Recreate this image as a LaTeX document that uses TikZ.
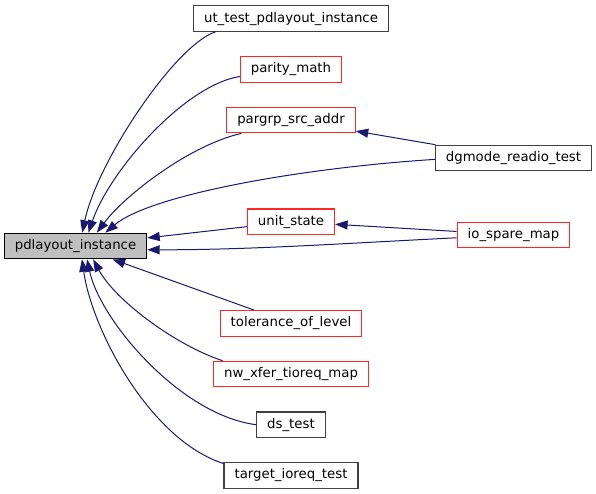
\documentclass[tikz,border=0pt]{standalone}
\usepackage{fontspec}
\setmainfont{DejaVu Sans}
\usepackage{tikz}
\usetikzlibrary{positioning, arrows.meta}
\definecolor{CallBlue}{HTML}{191970}
\definecolor{BoxGray}{HTML}{404040}
\definecolor{CurFill}{HTML}{BFBFBF}

\begin{document}
\begin{tikzpicture}[
  x=1pt, y=-1pt,
  font=\fontsize{13.3pt}{16pt}\selectfont,
  fn/.style={draw=BoxGray, line width=1.1pt, fill=white, inner xsep=10.5pt, minimum height=25.5pt, text height=9.8pt, text depth=2.8pt},
  fntrunc/.style={fn, draw=red!85!white},
  fncur/.style={fn, draw=black, fill=CurFill},
  arr/.style={-{Triangle[length=12.5pt, width=9pt]}, draw=CallBlue, line width=1pt},
  every node/.style={anchor=center}
]
\useasboundingbox (0,0) rectangle (596,493);
\node[fncur] (pdl) at (75.5,246) {pdlayout\_instance};
\node[fn] (ut) at (291,18.5) {ut\_test\_pdlayout\_instance};
\node[fntrunc, below=24.2pt of ut] (parity) {parity\_math};
\node[fntrunc, below=24.2pt of parity] (pargrp) {pargrp\_src\_addr};
\node[fntrunc, below=75pt of pargrp] (unit) {unit\_state};
\node[fntrunc, below=75pt of unit] (tol) {tolerance\_of\_level};
\node[fntrunc, below=24.1pt of tol] (nwx) {nw\_xfer\_tioreq\_map};
\node[fn, below=24.1pt of nwx] (ds) {ds\_test};
\node[fn, below=24.1pt of ds] (target) {target\_ioreq\_test};
\node[fn] (dgmode) at (513.5,158) {dgmode\_readio\_test};
\node[fntrunc, below=50.2pt of dgmode] (iospare) {io\_spare\_map};
% callers of pdlayout_instance
\draw[arr] (ut.190) .. controls (175,45) and (97,162) .. (pdl.63);
\draw[arr] (parity.188) .. controls (185,85) and (110,170) .. (pdl.46);
\draw[arr] (pargrp.195) .. controls (190,145) and (125,195) .. (pdl.32);
\draw[arr] (dgmode.181.5) .. controls (300,168) and (150,195) .. (pdl.24.5);
\draw[arr] (unit) -- (pdl);
\draw[arr] (iospare.183.6) .. controls (350,243) and (250,250) .. (pdl.357.6);
\draw[arr] (tol) -- (pdl);
\draw[arr] (nwx.169) .. controls (175,345) and (115,300) .. (pdl.323.4);
\draw[arr] (ds.west) .. controls (180,415) and (100,320) .. (pdl.311.5);
\draw[arr] (target.170) .. controls (150,440) and (92,330) .. (pdl.296.6);
% second level
\draw[arr] (dgmode) -- (pargrp);
\draw[arr] (iospare) -- (unit);
\end{tikzpicture}
\end{document}
